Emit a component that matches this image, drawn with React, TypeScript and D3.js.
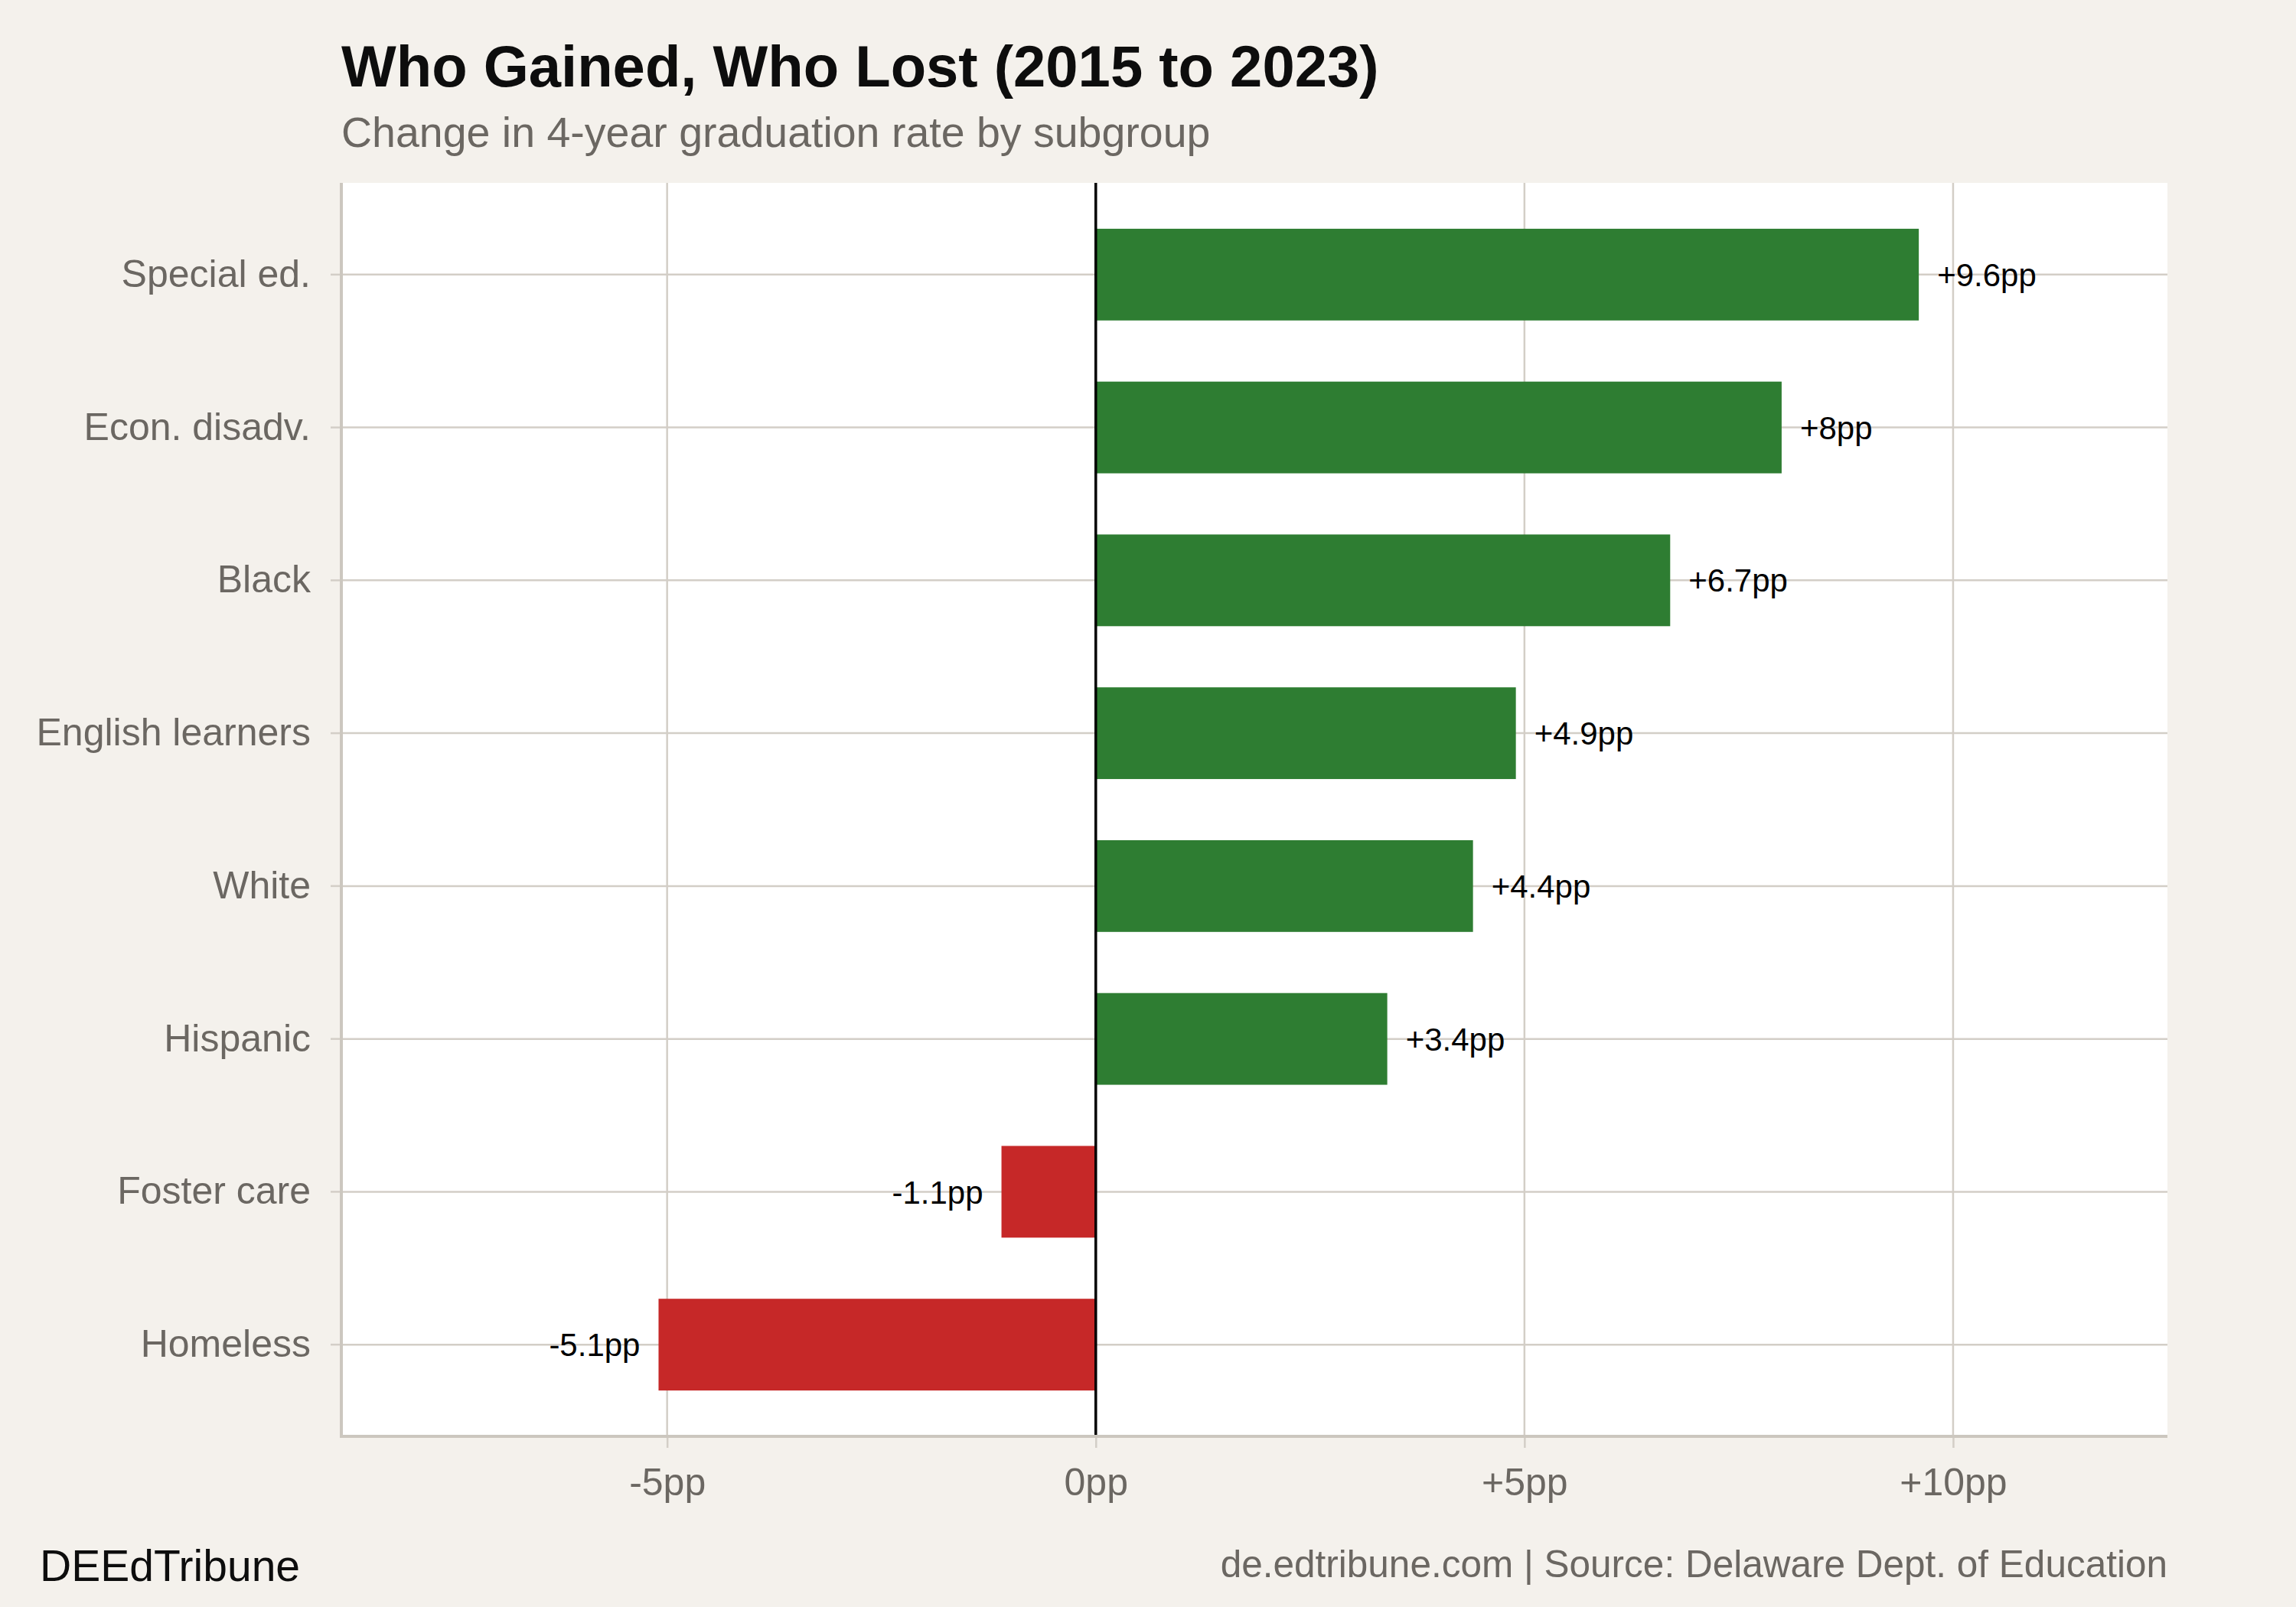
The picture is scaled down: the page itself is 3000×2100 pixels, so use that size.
import { useRef, useEffect } from 'react'
import { select, scaleLinear, scaleBand, axisBottom, axisLeft } from 'd3'

// change in 4-year graduation rate, percentage points
const groups = [
  'Special ed.',
  'Econ. disadv.',
  'Black',
  'English learners',
  'White',
  'Hispanic',
  'Foster care',
  'Homeless',
]
const changes = [9.6, 8, 6.7, 4.9, 4.4, 3.4, -1.1, -5.1]
const xTicks = [-5, 0, 5, 10]
const xDomain = [-8.8, 12.5]

const title = 'Who Gained, Who Lost (2015 to 2023)'
const subtitle = 'Change in 4-year graduation rate by subgroup'
const brand = 'DEEdTribune'
const source = 'de.edtribune.com | Source: Delaware Dept. of Education'

const FONT = '"Liberation Sans", Arial, Helvetica, sans-serif'
const BG = '#f4f1ec'
const GRID = '#d3cec7'
const AXIS = '#ccc7bf'
const MUTED = '#6b6762'
const GAIN = '#2e7d32'
const LOSS = '#c62828'

const fmtPP = (v) => (v > 0 ? `+${v}pp` : `${v}pp`)

const App = () => {
  const svgRef = useRef(null)

  function renderChart() {
    const svg = select(svgRef.current)
    svg.selectAll('*').remove()

    const width = 3000
    const height = 2100
    const panel = { left: 446, right: 2832, top: 239, bottom: 1877 }

    svg.append('rect').attr('width', width).attr('height', height).attr('fill', BG)

    const xScale = scaleLinear().domain(xDomain).range([panel.left, panel.right])
    const yScale = scaleBand()
      .domain(groups)
      .range([panel.top, panel.bottom])
      .paddingInner(0.4)
      .paddingOuter(0.3)

    // white plotting panel
    svg
      .append('rect')
      .attr('x', panel.left)
      .attr('y', panel.top)
      .attr('width', panel.right - panel.left)
      .attr('height', panel.bottom - panel.top)
      .attr('fill', '#ffffff')

    // grid
    const grid = svg.append('g').attr('class', 'grid')
    grid
      .selectAll('line.v')
      .data(xTicks)
      .join('line')
      .attr('class', 'v')
      .attr('x1', (d) => xScale(d))
      .attr('x2', (d) => xScale(d))
      .attr('y1', panel.top)
      .attr('y2', panel.bottom)
      .attr('stroke', GRID)
      .attr('stroke-width', 2.5)
    grid
      .selectAll('line.h')
      .data(groups)
      .join('line')
      .attr('class', 'h')
      .attr('x1', panel.left)
      .attr('x2', panel.right)
      .attr('y1', (d) => yScale(d) + yScale.bandwidth() / 2)
      .attr('y2', (d) => yScale(d) + yScale.bandwidth() / 2)
      .attr('stroke', GRID)
      .attr('stroke-width', 2.5)

    // bars
    const data = groups.map((g, i) => ({ group: g, value: changes[i] }))
    svg
      .append('g')
      .selectAll('rect')
      .data(data)
      .join('rect')
      .attr('x', (d) => xScale(Math.min(0, d.value)))
      .attr('y', (d) => yScale(d.group))
      .attr('width', (d) => Math.abs(xScale(d.value) - xScale(0)))
      .attr('height', yScale.bandwidth())
      .attr('fill', (d) => (d.value >= 0 ? GAIN : LOSS))

    // zero line
    svg
      .append('line')
      .attr('x1', xScale(0))
      .attr('x2', xScale(0))
      .attr('y1', panel.top)
      .attr('y2', panel.bottom)
      .attr('stroke', '#000')
      .attr('stroke-width', 3.5)

    // value labels
    svg
      .append('g')
      .selectAll('text')
      .data(data)
      .join('text')
      .text((d) => fmtPP(d.value))
      .attr('x', (d) => xScale(d.value) + (d.value >= 0 ? 24 : -24))
      .attr('y', (d) => yScale(d.group) + yScale.bandwidth() / 2)
      .attr('dy', '0.36em')
      .attr('text-anchor', (d) => (d.value >= 0 ? 'start' : 'end'))
      .attr('font-family', FONT)
      .attr('font-size', 42)
      .attr('fill', '#000')

    // axes
    const xAxis = axisBottom(xScale).tickValues(xTicks).tickSize(15).tickPadding(26).tickFormat(fmtPP)
    const xAxisGroup = svg.append('g').attr('transform', `translate(0, ${panel.bottom})`).call(xAxis)
    xAxisGroup.select('.domain').remove()
    xAxisGroup
      .append('line')
      .attr('x1', panel.left)
      .attr('x2', panel.right)
      .attr('stroke', AXIS)
      .attr('stroke-width', 4)

    const yAxis = axisLeft(yScale).tickSize(14).tickPadding(26)
    const yAxisGroup = svg.append('g').attr('transform', `translate(${panel.left}, 0)`).call(yAxis)
    yAxisGroup.select('.domain').remove()
    yAxisGroup
      .append('line')
      .attr('y1', panel.top)
      .attr('y2', panel.bottom + 2)
      .attr('stroke', AXIS)
      .attr('stroke-width', 4)

    svg.selectAll('.tick line').attr('stroke', GRID).attr('stroke-width', 2.5)
    svg
      .selectAll('.tick text')
      .attr('font-family', FONT)
      .attr('font-size', 50)
      .attr('fill', MUTED)
    xAxisGroup.selectAll('.tick text').attr('dy', '0.71em')

    // titles
    svg
      .append('text')
      .text(title)
      .attr('x', 446)
      .attr('y', 113)
      .attr('font-family', FONT)
      .attr('font-weight', 'bold')
      .attr('font-size', 76)
      .attr('fill', '#0d0d0d')
    svg
      .append('text')
      .text(subtitle)
      .attr('x', 446)
      .attr('y', 192)
      .attr('font-family', FONT)
      .attr('font-size', 55.5)
      .attr('fill', MUTED)

    // footer
    svg
      .append('text')
      .text(brand)
      .attr('x', 52)
      .attr('y', 2066)
      .attr('font-family', FONT)
      .attr('font-size', 57)
      .attr('fill', '#0d0d0d')
    svg
      .append('text')
      .text(source)
      .attr('x', panel.right)
      .attr('y', 2061)
      .attr('text-anchor', 'end')
      .attr('font-family', FONT)
      .attr('font-size', 49.5)
      .attr('fill', MUTED)
  }

  useEffect(() => {
    document.body.style.margin = '0'
    renderChart()
  }, [])

  return (
    <div>
      <svg width="3000" height="2100" ref={svgRef} style={{ display: 'block' }}></svg>
    </div>
  )
}

export default App
